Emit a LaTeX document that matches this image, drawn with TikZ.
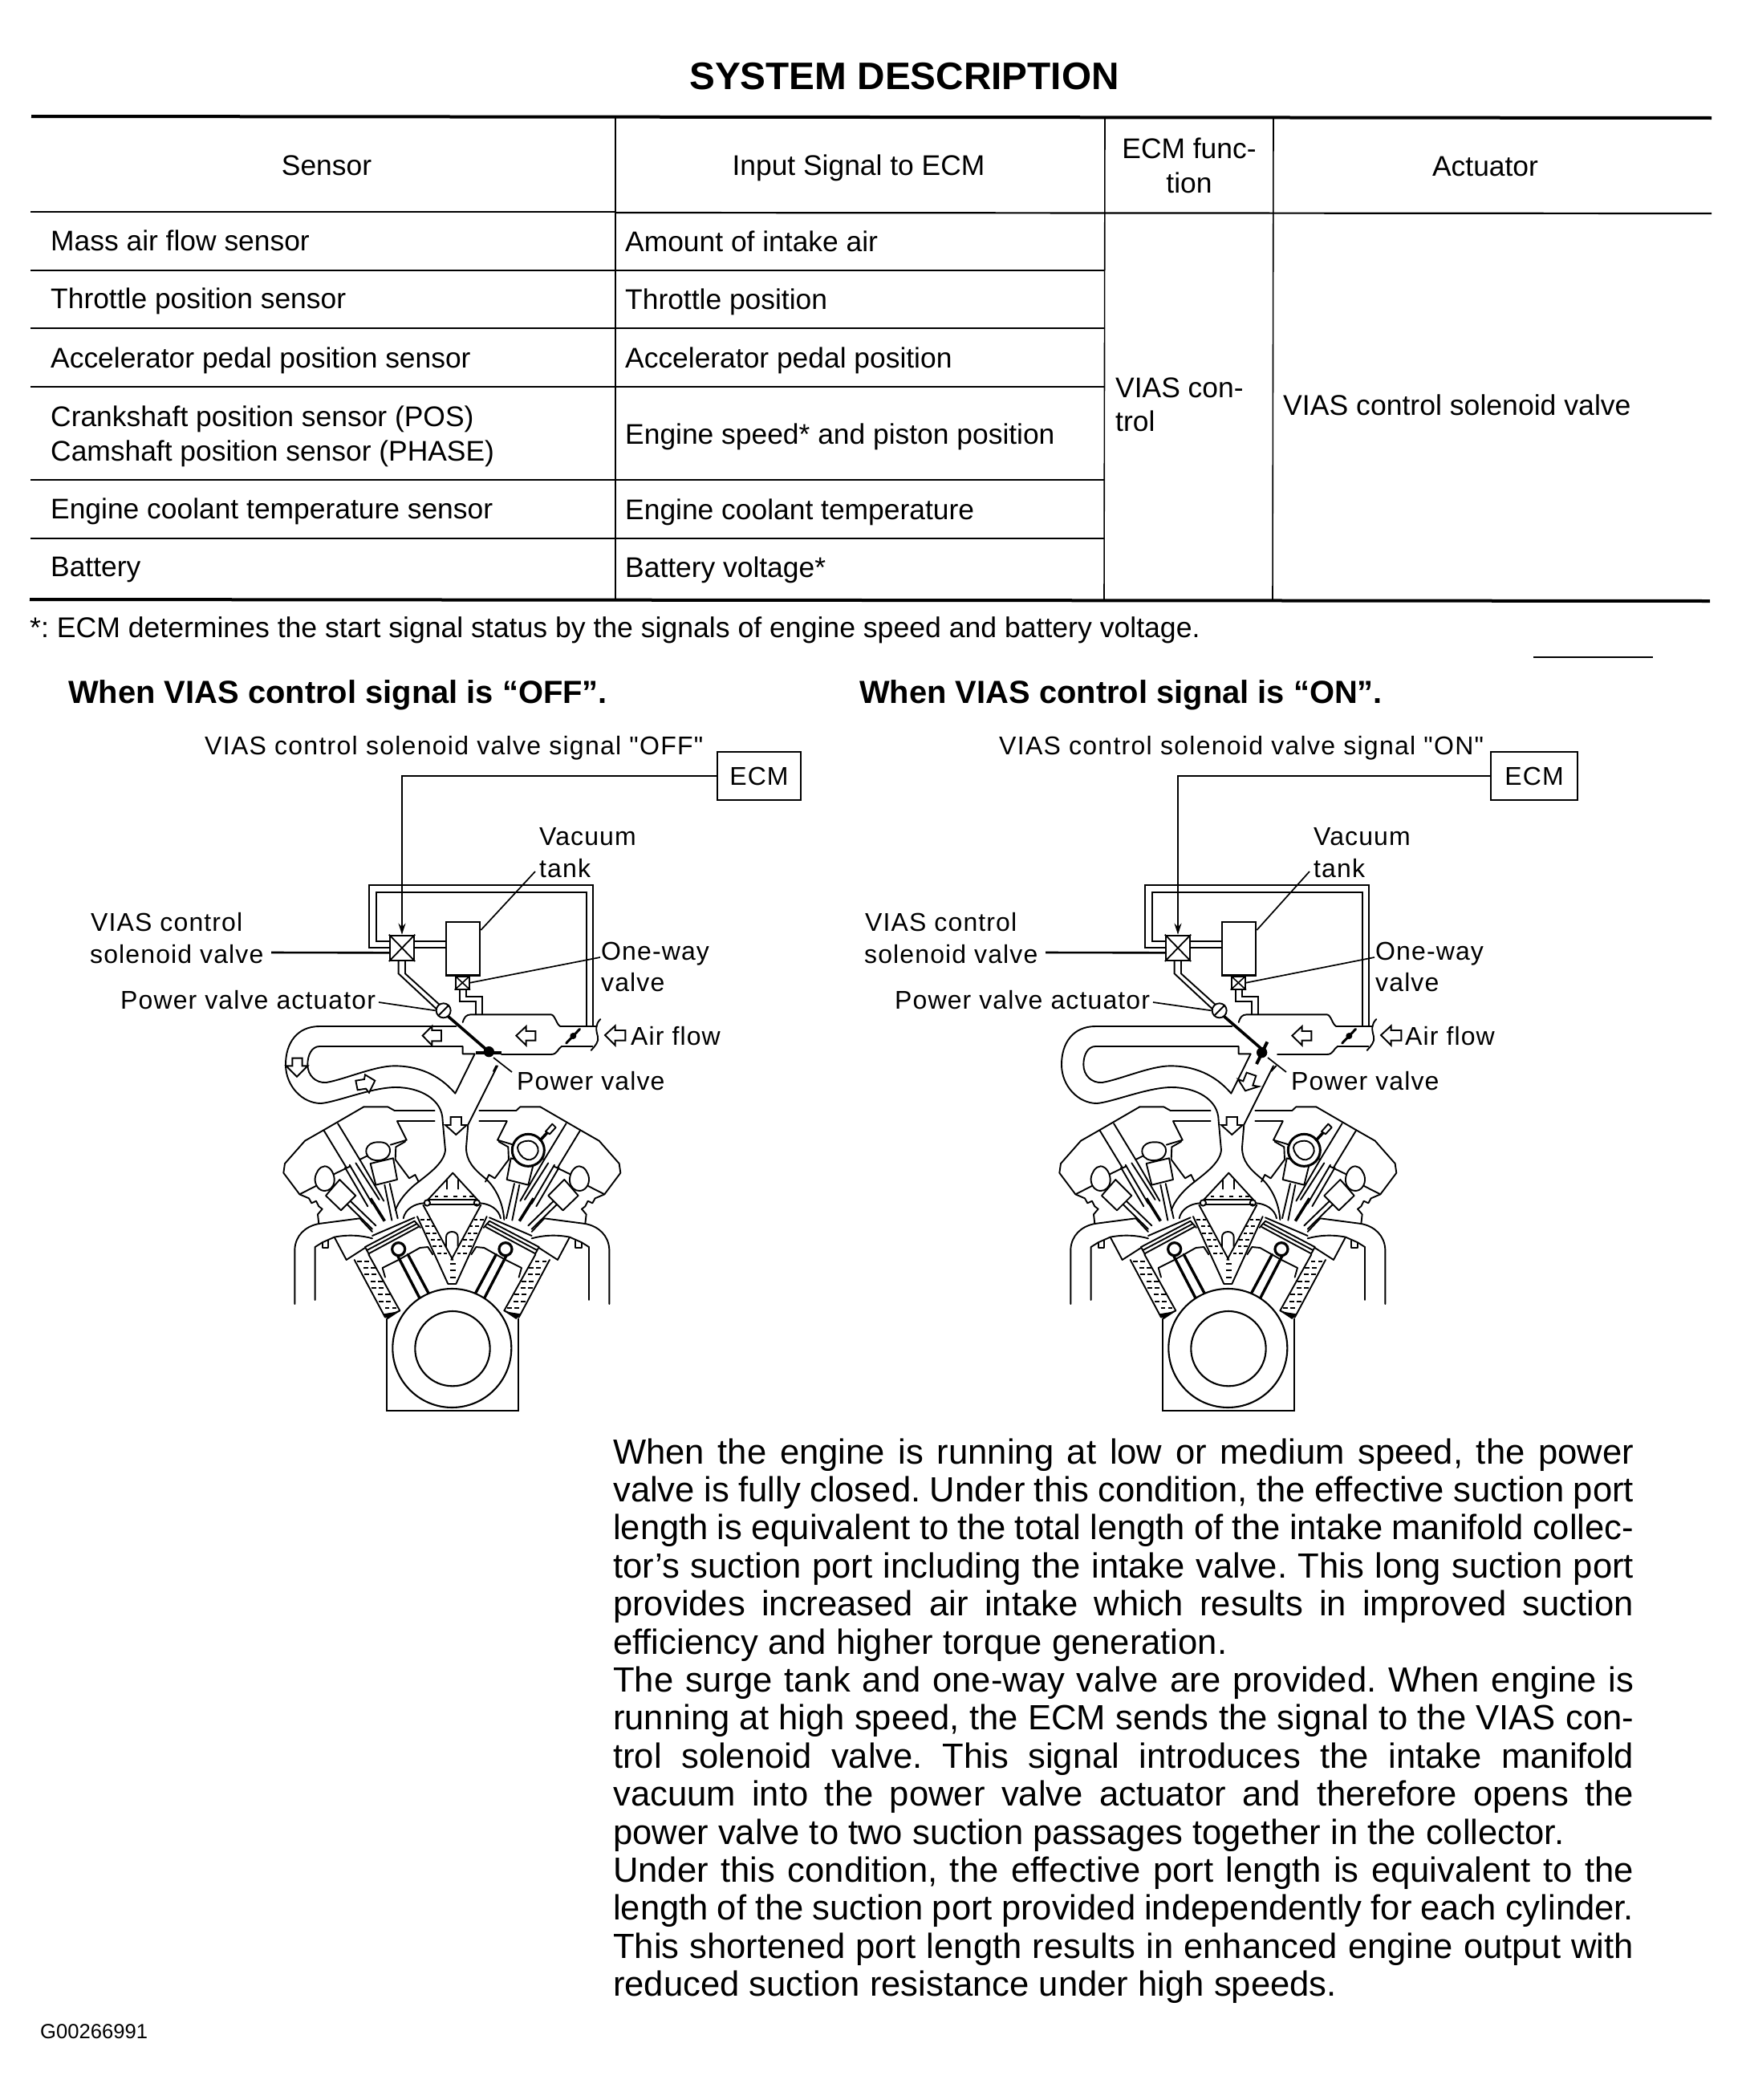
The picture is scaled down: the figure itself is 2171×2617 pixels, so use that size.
\documentclass[tikz,border=0pt]{standalone}
\usepackage{fontspec}
\setmainfont{Liberation Sans}
\newfontfamily\labfont[LetterSpace=3.5]{Liberation Sans}
\newfontfamily\siglabfont[LetterSpace=4]{Liberation Sans}
\usetikzlibrary{arrows.meta}
\frenchspacing
\newcommand\fs[1]{\fontsize{#1bp}{#1bp}\selectfont}
\tikzset{
  x=1bp,y=-1bp,
  txt/.style={anchor=base west,inner sep=0pt,font=\frenchspacing\fs{35.4}},
  txtc/.style={anchor=base,inner sep=0pt,font=\fs{35.4}},
  lab/.style={anchor=base west,inner sep=0pt,font=\labfont\fs{32}},
  head/.style={anchor=base west,inner sep=0pt,font=\bfseries\fs{39.9}},
  rulethick/.style={line width=4bp},
  rulethin/.style={line width=2.2bp},
  rulecol/.style={line width=1.6bp},
  eng/.style={line width=1.9bp,line join=round,line cap=round},
  thk/.style={line width=3.6bp,line join=round},
  fine/.style={line width=1.6bp,line join=round},
  pipe/.style={line width=1.9bp,line join=miter},
  arw/.style={line width=1.9bp,fill=white,line join=miter},
  vbox/.style={draw,line width=2.4bp,fill=white,inner sep=0pt,minimum width=#1},
  compnt/.style={draw,line width=1.9bp,fill=white,inner sep=0pt},
  lead/.style={line width=1.7bp},
  tick/.style={line width=2.3bp},
  z4/.style={shift={(330,1080)},x=0.33333bp,y=-0.33333bp},
  z2/.style={shift={(320,1280)},x=0.33333bp,y=-0.33333bp},
}
% ---------- one half of the engine head and block (zoom coordinates)
\newcommand\enginehalf{%
  \draw[eng] (400,298) -- (250,385) -- (180,425) -- (105,510) -- (100,545) -- (160,625)
    -- (195,640) -- (205,658) -- (222,650) -- (232,670) -- (245,680) -- (228,700) -- (232,735);
  \draw[eng] (250,385) -- (335,525) (303,360) -- (385,495);
  \draw[eng] (160,625) -- (225,592) (288,550) -- (350,520) (385,495) -- (420,478);
  \draw[eng] (330,525) -- (415,670) (347,515) -- (432,660) (370,508) -- (458,645) (385,495) -- (475,650);
  \draw[thk] (425,640) -- (478,725);
  \draw[eng] (478,590) -- (505,722) (497,585) -- (527,715);
  \draw[eng] (340,665) -- (432,755) (352,652) -- (445,742);
  \draw[eng,fill=white] (254,520) .. controls (275,520) and (292,550) .. (290,575) .. controls (288,600) and (270,612) .. (254,612) .. controls (232,612) and (216,590) .. (218,565) .. controls (220,545) and (235,520) .. (254,520) -- cycle;
  \draw[eng,fill=white] (425,510) -- (510,490) -- (525,570) -- (445,590) -- cycle;
  \draw[eng,fill=white] (310,570) -- (370,630) -- (315,685) -- (258,630) -- cycle;
  \draw[eng] (525,352) -- (560,422) -- (500,440);
  \draw[eng] (555,428) -- (520,448) -- (518,495) -- (570,565) -- (592,552) -- (605,578);
  \draw[eng] (142,1035) -- (142,830) .. controls (145,780) and (180,745) .. (232,735) -- (385,715) -- (432,765);
  \draw[eng] (218,1020) -- (218,822) -- (245,805) -- (290,785) -- (335,870) -- (405,825);
  \draw[eng] (290,785) .. controls (340,775) and (390,778) .. (432,790);
  \draw[eng] (246,806) -- (246,825) -- (268,825) -- (268,798);
  \draw[eng] (432,780) -- (590,712);
  \draw[eng] (405,822) -- (590,725) (412,834) -- (597,736) (420,846) -- (604,747);
  \draw[eng] (405,822) -- (420,850) (590,725) -- (612,750);
  \draw[eng] (365,870) -- (480,1085) -- (535,1060) -- (418,850);
  \foreach \y/\o in {875/0,900/1,925/0,950/1,975/0,1000/1,1025/0,1050/1}{%
    \pgfmathsetmacro\xa{365+(\y-870)*0.535+8+\o*10}
    \draw[tick] (\xa,\y) -- ++(17,0) (\xa+27,\y) -- ++(17,0);}
  \fill (474,1072) -- (535,1062) -- (490,1092) -- cycle;
  \draw[eng] (480,935) -- (470,900) -- (530,870) -- (610,825) -- (640,822) -- (658,850);
  \draw[line width=3.4bp,line cap=round] (527,855) -- (610,1015) (565,850) -- (645,1000);
  \draw[line width=3.2bp,fill=white] (530,830) circle[radius=24];
  \draw[eng] (548,715) .. controls (555,680) and (590,660) .. (625,658);
  \draw[eng,fill=white] (637,657) circle[radius=11];
  \draw[eng] (622,665) -- (733,870);
  \draw[eng] (600,708) -- (715,960) -- (733,960);
  \foreach \y/\o in {720/0,745/1,770/0,795/1,820/0,845/1}{%
    \pgfmathsetmacro\xa{600+(\y-708)*0.45+6+\o*6}
    \draw[tick] (\xa,\y) -- ++(15,0) (\xa+24,\y) -- ++(13,0);}
}
% ---------- whole engine block, drawn in zoom-2 coordinates
\newcommand\engineblock{%
  \begin{scope}[z2]
    \enginehalf
    \begin{scope}[shift={(1460,0)},xscale=-1]
      \enginehalf
    \end{scope}
    % left top stubs and centre
    \draw[eng] (665,312) -- (515,312) -- (490,298) -- (400,298);
    \draw[eng] (832,312) -- (970,312) -- (985,298) -- (1060,298);
    \draw[eng] (665,352) -- (525,352) (832,352) -- (935,352);
    % runner walls
    \draw[eng] (770,72) -- (235,72) .. controls (205,72) and (190,105) .. (190,140) .. controls (190,180) and (220,210) .. (260,207)
      .. controls (330,195) and (440,145) .. (515,145) .. controls (600,145) and (680,175) .. (742,248) -- (815,100) -- (770,100) -- cycle;
    \draw[eng] (745,-3) -- (235,-3) .. controls (150,-3) and (108,60) .. (108,140) .. controls (108,220) and (170,285) .. (240,285)
      .. controls (300,280) and (430,225) .. (520,225) .. controls (610,225) and (695,270) .. (695,350) -- (705,460)
      .. controls (700,510) and (640,550) .. (590,590) .. controls (560,615) and (530,650) .. (518,685);
    \draw[eng] (900,145) -- (790,365) -- (783,450) .. controls (783,500) and (810,530) .. (860,570) .. controls (890,600) and (920,650) .. (925,720);
    % centre dome and gallery
    \draw[eng] (733,545) -- (640,645) -- (825,645) -- cycle;
    \draw[eng] (645,664) -- (825,664);
    \draw[eng] (710,605) -- (710,570) (753,605) -- (753,570);
    \foreach \xa in {665,700,735,770,795}{\draw[tick] (\xa,634) -- ++(14,0);}
    \draw[eng] (708,820) -- (708,785) .. controls (708,772) and (718,765) .. (730,765) .. controls (742,765) and (752,772) .. (752,785) -- (752,820);
    \foreach \y in {885,910,935}{\draw[tick] (722,\y) -- ++(22,0);}
    % crank circle and block
    \draw[line width=2.1bp] (485,1090) -- (485,1435) -- (977,1435) -- (977,1090);
    \draw[line width=2.1bp,fill=white] (730,1200) circle[radius=222];
    \draw[line width=2.1bp] (732,1202) circle[radius=140];
    % ring with sensor at the right cam
    \draw[line width=3bp,fill=white] (1015,460) circle[radius=60];
    \draw[eng,fill=white] (1015,425) .. controls (1040,425) and (1055,445) .. (1052,465) .. controls (1045,490) and (1025,500) .. (1010,495) .. controls (990,490) and (975,465) .. (975,450) .. controls (975,435) and (995,425) .. (1015,425) -- cycle;
    \draw[thk] (1058,425) -- (1090,390);
    \draw[eng,fill=white] (1080,390) -- (1105,362) -- (1118,375) -- (1095,400) -- cycle;
    % left cam
    \draw[eng,fill=white] (453,430) .. controls (480,428) and (500,440) .. (498,465) .. controls (495,490) and (470,500) .. (445,498) .. controls (420,495) and (405,480) .. (410,455) .. controls (415,440) and (430,430) .. (453,430) -- cycle;
  \end{scope}
}
% ---------- hoses, tank, valves in zoom-4 coordinates; #1 = name prefix
\newcommand\plumbing[1]{%
  \begin{scope}[z4]
    % collector outline
    \draw[eng] (740,582) .. controls (745,565) and (752,553) .. (770,553) -- (1070,553) .. controls (1085,553) and (1090,590) .. (1105,597) -- (1240,597);
    \draw[eng] (1225,672) -- (1110,672) .. controls (1095,680) and (1095,702) .. (1070,702) -- (885,702);
    \draw[eng] (1255,570) .. controls (1235,590) and (1238,610) .. (1245,635) .. controls (1250,655) and (1235,670) .. (1220,687);
    % hoses
    \draw[pipe] (468,303) -- (390,303) -- (390,70) -- (1226,70) -- (1226,597);
    \draw[pipe] (468,278) -- (418,278) -- (418,95) -- (1203,95) -- (1203,597);
    \draw[pipe] (500,350) -- (500,400) -- (645,535);
    \draw[pipe] (525,350) -- (525,400) -- (660,522);
    \draw[pipe] (558,278) -- (678,278) (558,303) -- (678,303);
    \draw[pipe] (730,458) -- (730,505) -- (790,505) -- (790,553);
    \draw[pipe] (752,458) -- (752,487) -- (812,487) -- (812,553);
    % components
    \node[vbox=30bp,minimum height=31bp] (#1sol) at (513,304) {};
    \draw[line width=1.8bp] (#1sol.north west) -- (#1sol.south east) (#1sol.north east) -- (#1sol.south west);
    \node[compnt,line width=2.2bp,minimum width=42.5bp,minimum height=66.5bp] (#1tank) at (741,307) {};
    \node[compnt,minimum width=17.5bp,minimum height=16bp] (#1owv) at (739,434) {};
    \draw[line width=1.6bp] (#1owv.north west) -- (#1owv.south east) (#1owv.north east) -- (#1owv.south west);
    \draw[thk] (680,555) -- (838,692);
    \node[compnt,circle,minimum size=18bp] (#1act) at (668,538) {};
    \draw[line width=1.9bp] (#1act.south west) -- (#1act.north east);
    % throttle
    \draw[line width=3bp,line cap=round] (1127,660) -- (1178,607);
    \fill (1153,633) ellipse[x radius=12,y radius=12];
    % arrows: collector and air flow and shared Y arrow
    \draw[arw] (940,632) -- (977,597) -- (977,615) -- (1012,615) -- (1012,650) -- (977,650) -- (977,668) -- cycle;
    \draw[arw] (1272,630) -- (1310,595) -- (1310,612) -- (1348,612) -- (1348,650) -- (1310,650) -- (1310,668) -- cycle;
    \draw[arw] (715,1002) -- (675,966) -- (695,966) -- (695,936) -- (735,936) -- (735,966) -- (755,966) -- cycle;
  \end{scope}
}
% labels; #1 prefix, #2 x-offset
\newcommand\labels[2]{%
  \node[lab] (#1vias) at (113+#2,1160) {VIAS control};
  \node[lab] (#1sv) at (112+#2,1200) {solenoid valve};
  \node[lab] (#1vac) at (672+#2,1053) {Vacuum};
  \node[lab] (#1tk) at (672+#2,1093) {tank};
  \node[lab] (#1one) at (749+#2,1196) {One-way};
  \node[lab] (#1val) at (749+#2,1235) {valve};
  \node[lab] (#1pva) at (150+#2,1257) {Power valve actuator};
  \node[lab] (#1air) at (786+#2,1302) {Air flow};
  \node[lab] (#1pv) at (644+#2,1358) {Power valve};
  \coordinate (#1c1) at (338+#2,1187);
  \coordinate (#1c2) at (472+#2,1249);
  \coordinate (#1c3) at (667+#2,1086);
  \coordinate (#1c4) at (748+#2,1193);
  \coordinate (#1c5) at (638+#2,1336);
  \coordinate (#1c6) at (615+#2,1318);
  \draw[line width=2.6bp] (#1c1) -- ([yshift=-6bp]#1sol.west);
  \draw[lead] (#1c2) -- (#1act.west);
  \draw[lead] (#1c3) -- (#1tank.north east |- 0,1159);
  \draw[lead] (#1c4) -- (#1owv.east);
  \draw[lead] (#1c5) -- (#1c6);
}
\newcommand\jl[1]{\hbox to 1272bp{#1}\par}
\begin{document}
\begin{tikzpicture}
\useasboundingbox (0,0) rectangle (2171,2617);
\fill[white] (0,0) rectangle (2171,2617);
% title
\node[anchor=base,inner sep=0pt,font=\bfseries\fs{47.7}] (title) at (1127,111) {SYSTEM DESCRIPTION};
% table rules
\draw[rulethick] (39,145) -- (2133,147);
\draw[rulethin] (38,264) -- (767,264);
\draw[rulethin] (767,265) -- (2133,266);
\foreach \y in {337,409,482,598,671}{\draw[rulethin] (38,\y) -- (1377,\y);}
\draw[rulethick] (37,747) -- (2131,749);
\draw[rulecol] (767,146) -- (767,747);
\draw[rulecol] (1377,146) -- (1376,747);
\draw[rulecol] (1587,146) -- (1586,748);
% table text
\node[txtc] (h1) at (407,218) {Sensor};
\node[txtc] (h2) at (1070,218) {Input Signal to ECM};
\node[txtc] (h3a) at (1482,197) {ECM func-};
\node[txtc] (h3b) at (1482,240) {tion};
\node[txtc] (h4) at (1851,219) {Actuator};
\node[txt] (s1) at (63,312) {Mass air flow sensor};
\node[txt] (s2) at (63,384) {Throttle position sensor};
\node[txt] (s3) at (63,458) {Accelerator pedal position sensor};
\node[txt] (s4a) at (63,531) {Crankshaft position sensor (POS)};
\node[txt] (s4b) at (63,574) {Camshaft position sensor (PHASE)};
\node[txt] (s5) at (63,646) {Engine coolant temperature sensor};
\node[txt] (s6) at (63,718) {Battery};
\node[txt] (i1) at (779,313) {Amount of intake air};
\node[txt] (i2) at (779,385) {Throttle position};
\node[txt] (i3) at (779,458) {Accelerator pedal position};
\node[txt] (i4) at (779,553) {Engine speed* and piston position};
\node[txt] (i5) at (779,647) {Engine coolant temperature};
\node[txt] (i6) at (779,719) {Battery voltage*};
\node[txt] (f1) at (1390,495) {VIAS con-};
\node[txt] (f2) at (1390,537) {trol};
\node[txt,font=\fs{35.6}] (a1) at (1599,517) {VIAS control solenoid valve};
\node[anchor=base west,inner sep=0pt,font=\fs{35.6}] (note) at (37,794) {*: ECM determines the start signal status by the signals of engine speed and battery voltage.};
\draw[line width=1.5bp] (1911,819) -- (2060,819);
\node[head] (hoff) at (85,876) {When VIAS control signal is “OFF”.};
\node[head] (hon) at (1071,876) {When VIAS control signal is “ON”.};
% left state
\engineblock
\plumbing{a}
\begin{scope}[z4]
  \draw[line width=4bp] (790,695) -- (885,695);
  \fill (838,692) circle[radius=20];
  \draw[eng] (865,745) -- (855,765);
  \draw[arw] (590,632) -- (625,597) -- (625,612) -- (660,612) -- (660,652) -- (625,652) -- (625,668) -- cycle;
  \draw[arw] (120,785) -- (80,745) -- (103,745) -- (103,716) -- (140,716) -- (140,745) -- (160,745) -- cycle;
  \draw[arw] (340,800) -- (372,795) -- (375,778) -- (412,800) -- (390,845) -- (378,830) -- (347,835) -- cycle;
\end{scope}
\node[anchor=base west,inner sep=0pt,font=\siglabfont\fs{32}] (soff) at (255,940) {VIAS control solenoid valve signal "OFF"};
\node[draw,line width=2bp,inner sep=0pt,minimum width=104bp,minimum height=60bp,font=\labfont\fs{32}] (ecma) at (946,967) {ECM};
\draw[line width=1.7bp,-{Stealth[length=14bp,width=9bp]}] (ecma.west) -| (asol.north);
\labels{a}{0}
% right state
\begin{scope}[shift={(967,0)}]
  \engineblock
  \plumbing{b}
  \begin{scope}[z4]
    \draw[line width=4bp] (847,655) -- (807,738);
    \fill (827,695) circle[radius=20];
    \draw[eng] (880,745) -- (862,765);
    \draw[arw] (770,770) -- (805,782) -- (793,818) -- (815,822) -- (765,838) -- (738,795) -- (757,802) -- cycle;
  \end{scope}
\end{scope}
\node[anchor=base west,inner sep=0pt,font=\siglabfont\fs{32}] (son) at (1245,940) {VIAS control solenoid valve signal "ON"};
\node[draw,line width=2bp,inner sep=0pt,minimum width=108bp,minimum height=60bp,font=\labfont\fs{32}] (ecmb) at (1912,967) {ECM};
\draw[line width=1.7bp,-{Stealth[length=14bp,width=9bp]}] (ecmb.west) -| (bsol.north);
\labels{b}{965}
% paragraph
\node[anchor=base west,inner sep=0pt] (body) at (764,1824) {\parbox[t]{1272bp}{\fontsize{43.6bp}{47.4bp}\selectfont\parindent=0pt\frenchspacing
\jl{When the engine is running at low or medium speed, the power}
\jl{valve is fully closed. Under this condition, the effective suction port}
\jl{length is equivalent to the total length of the intake manifold collec-}
\jl{tor’s suction port including the intake valve. This long suction port}
\jl{provides increased air intake which results in improved suction}
efficiency and higher torque generation.\par
\jl{The surge tank and one-way valve are provided. When engine is}
\jl{running at high speed, the ECM sends the signal to the VIAS con-}
\jl{trol solenoid valve. This signal introduces the intake manifold}
\jl{vacuum into the power valve actuator and therefore opens the}
power valve to two suction passages together in the collector.\par
\jl{Under this condition, the effective port length is equivalent to the}
\jl{length of the suction port provided independently for each cylinder.}
\jl{This shortened port length results in enhanced engine output with}
reduced suction resistance under high speeds.}};
\node[anchor=base west,inner sep=0pt,font=\fs{25.6}] (code) at (50,2540) {G00266991};
\end{tikzpicture}
\end{document}
